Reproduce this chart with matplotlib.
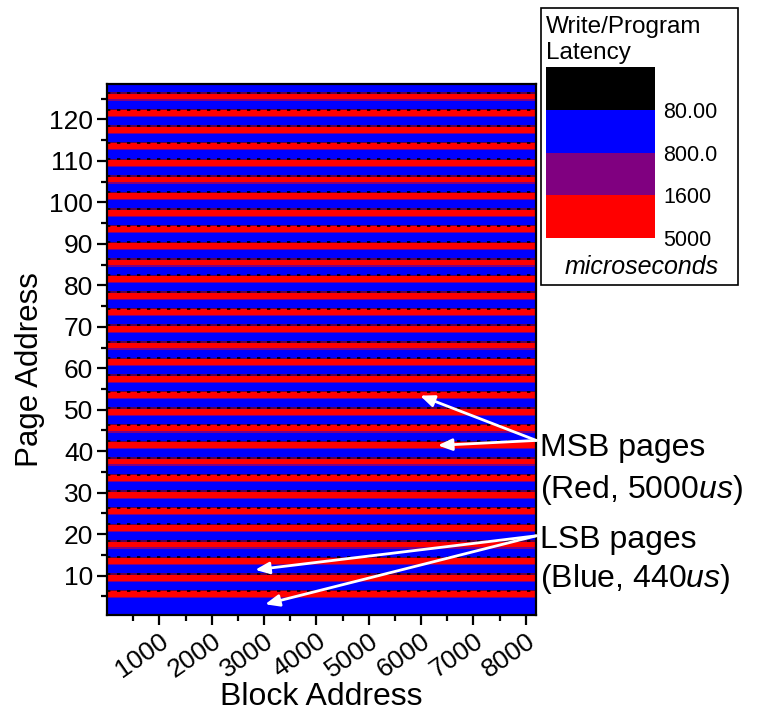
import numpy as np
import matplotlib
matplotlib.use("Agg")
import matplotlib.pyplot as plt
from matplotlib.colors import ListedColormap, BoundaryNorm
from matplotlib.patches import Rectangle

plt.rcParams['font.family'] = ['Liberation Sans', 'DejaVu Sans']
plt.rcParams['mathtext.fontset'] = 'custom'
plt.rcParams['mathtext.rm'] = 'Liberation Sans'
plt.rcParams['mathtext.it'] = 'Liberation Sans:italic'

# data
n_blocks = 8192
n_pages = 128
lsb_us = 440
msb_us = 5000
# first four pages are LSB, then MSB,MSB,LSB,LSB repeats up to page 128
page_latency_us = [lsb_us] * 4 + [msb_us, msb_us, lsb_us, lsb_us] * 31

level_bounds = [0, 80, 800, 1600, 5000]
level_labels = ["80.00", "800.0", "1600", "5000"]
level_colors = ["black", "#0000ff", "#800080", "#ff0000"]

msb_arrow_heads = [(5980, 53.4), (6320, 41.4)]
msb_arrow_tail = (8200, 42.6)
lsb_arrow_heads = [(2830, 11.4), (3020, 3.1)]
lsb_arrow_tail = (8200, 19.6)

lat = np.array(page_latency_us, dtype=float)
pages = np.arange(1, n_pages + 1)
# one row per page, same across all blocks
grid = np.tile(lat[:, None], (1, 64))

cmap = ListedColormap(level_colors)
cmap.set_over(level_colors[-1])
norm = BoundaryNorm(level_bounds, cmap.N)

fig = plt.figure(figsize=(7.59, 7.13), dpi=100)
ax = fig.add_axes([0.141, 0.1374, 0.565, 0.7446])

ax.imshow(grid, cmap=cmap, norm=norm, aspect='auto', origin='lower',
          extent=[0, n_blocks, 0.5, n_pages + 0.5], interpolation='nearest')

# transition rows between LSB and MSB pages (smeared in the measured map)
for i in range(1, n_pages):
    edge = pages[i] - 0.5
    if lat[i] > lat[i - 1]:
        ax.axhspan(edge, edge + 0.3, color=level_colors[2], lw=0)
    elif lat[i] < lat[i - 1]:
        ax.axhspan(edge - 0.3, edge + 0.05, color='#5a0050', lw=0)
        ax.hlines(edge - 0.12, 0, n_blocks, color='black', lw=1.2,
                  linestyles=(0, (2, 4)))

ax.set_xlim(0, n_blocks)
ax.set_ylim(0.5, n_pages + 0.5)
ax.set_xticks(np.arange(1000, 8001, 1000))
ax.set_xticks(np.arange(500, 8192, 1000), minor=True)
ax.set_yticks(np.arange(10, 121, 10))
ax.set_yticks(np.arange(5, 128, 10), minor=True)
for s in ax.spines.values():
    s.set_linewidth(1.6)
ax.tick_params(which='major', length=7, width=1.6, labelsize=19, pad=3)
ax.tick_params(which='minor', length=4, width=1.6)
plt.setp(ax.get_xticklabels(), rotation=35, ha='right', va='top',
         rotation_mode='anchor')
ax.set_xlabel("Block Address", fontsize=23, labelpad=0)
ax.set_ylabel("Page Address", fontsize=22.5)
ax.yaxis.set_label_coords(-0.145, 0.463)

arrow_kw = dict(arrowstyle='-|>,head_length=0.6,head_width=0.25',
                color='white', lw=2, mutation_scale=14, shrinkA=0, shrinkB=0)
for h in msb_arrow_heads:
    ax.annotate('', xy=h, xytext=msb_arrow_tail, arrowprops=arrow_kw,
                annotation_clip=False)
for h in lsb_arrow_heads:
    ax.annotate('', xy=h, xytext=lsb_arrow_tail, arrowprops=arrow_kw,
                annotation_clip=False)

fig.text(0.712, 0.3410, "MSB pages\n(Red, 5000$\\mathit{us}$)", fontsize=23,
         ha='left', va='center', linespacing=1.38)
fig.text(0.712, 0.2140, "LSB pages\n(Blue, 440$\\mathit{us}$)", fontsize=23,
         ha='left', va='center', linespacing=1.3)

# legend box with colour key
fig.patches.append(Rectangle((0.7128, 0.6003), 0.2595, 0.3885,
                             transform=fig.transFigure, fill=False,
                             edgecolor='black', lw=1.2))
fig.text(0.7194, 0.978, "Write/Program\nLatency", fontsize=17.5,
         ha='left', va='top', linespacing=1.25)
cax = fig.add_axes([0.7194, 0.6662, 0.1436, 0.2398])
cb = fig.colorbar(plt.cm.ScalarMappable(norm=norm, cmap=cmap), cax=cax,
                  spacing='uniform', ticks=level_bounds[1:])
cb.ax.set_yticklabels(level_labels)
cb.ax.invert_yaxis()
cb.ax.minorticks_off()
cb.outline.set_visible(False)
cb.ax.tick_params(length=0, labelsize=15.5, pad=6)
fig.text(0.845, 0.625, "microseconds", fontsize=18, style='italic',
         ha='center', va='center')

fig.savefig("out.png", dpi=100)
